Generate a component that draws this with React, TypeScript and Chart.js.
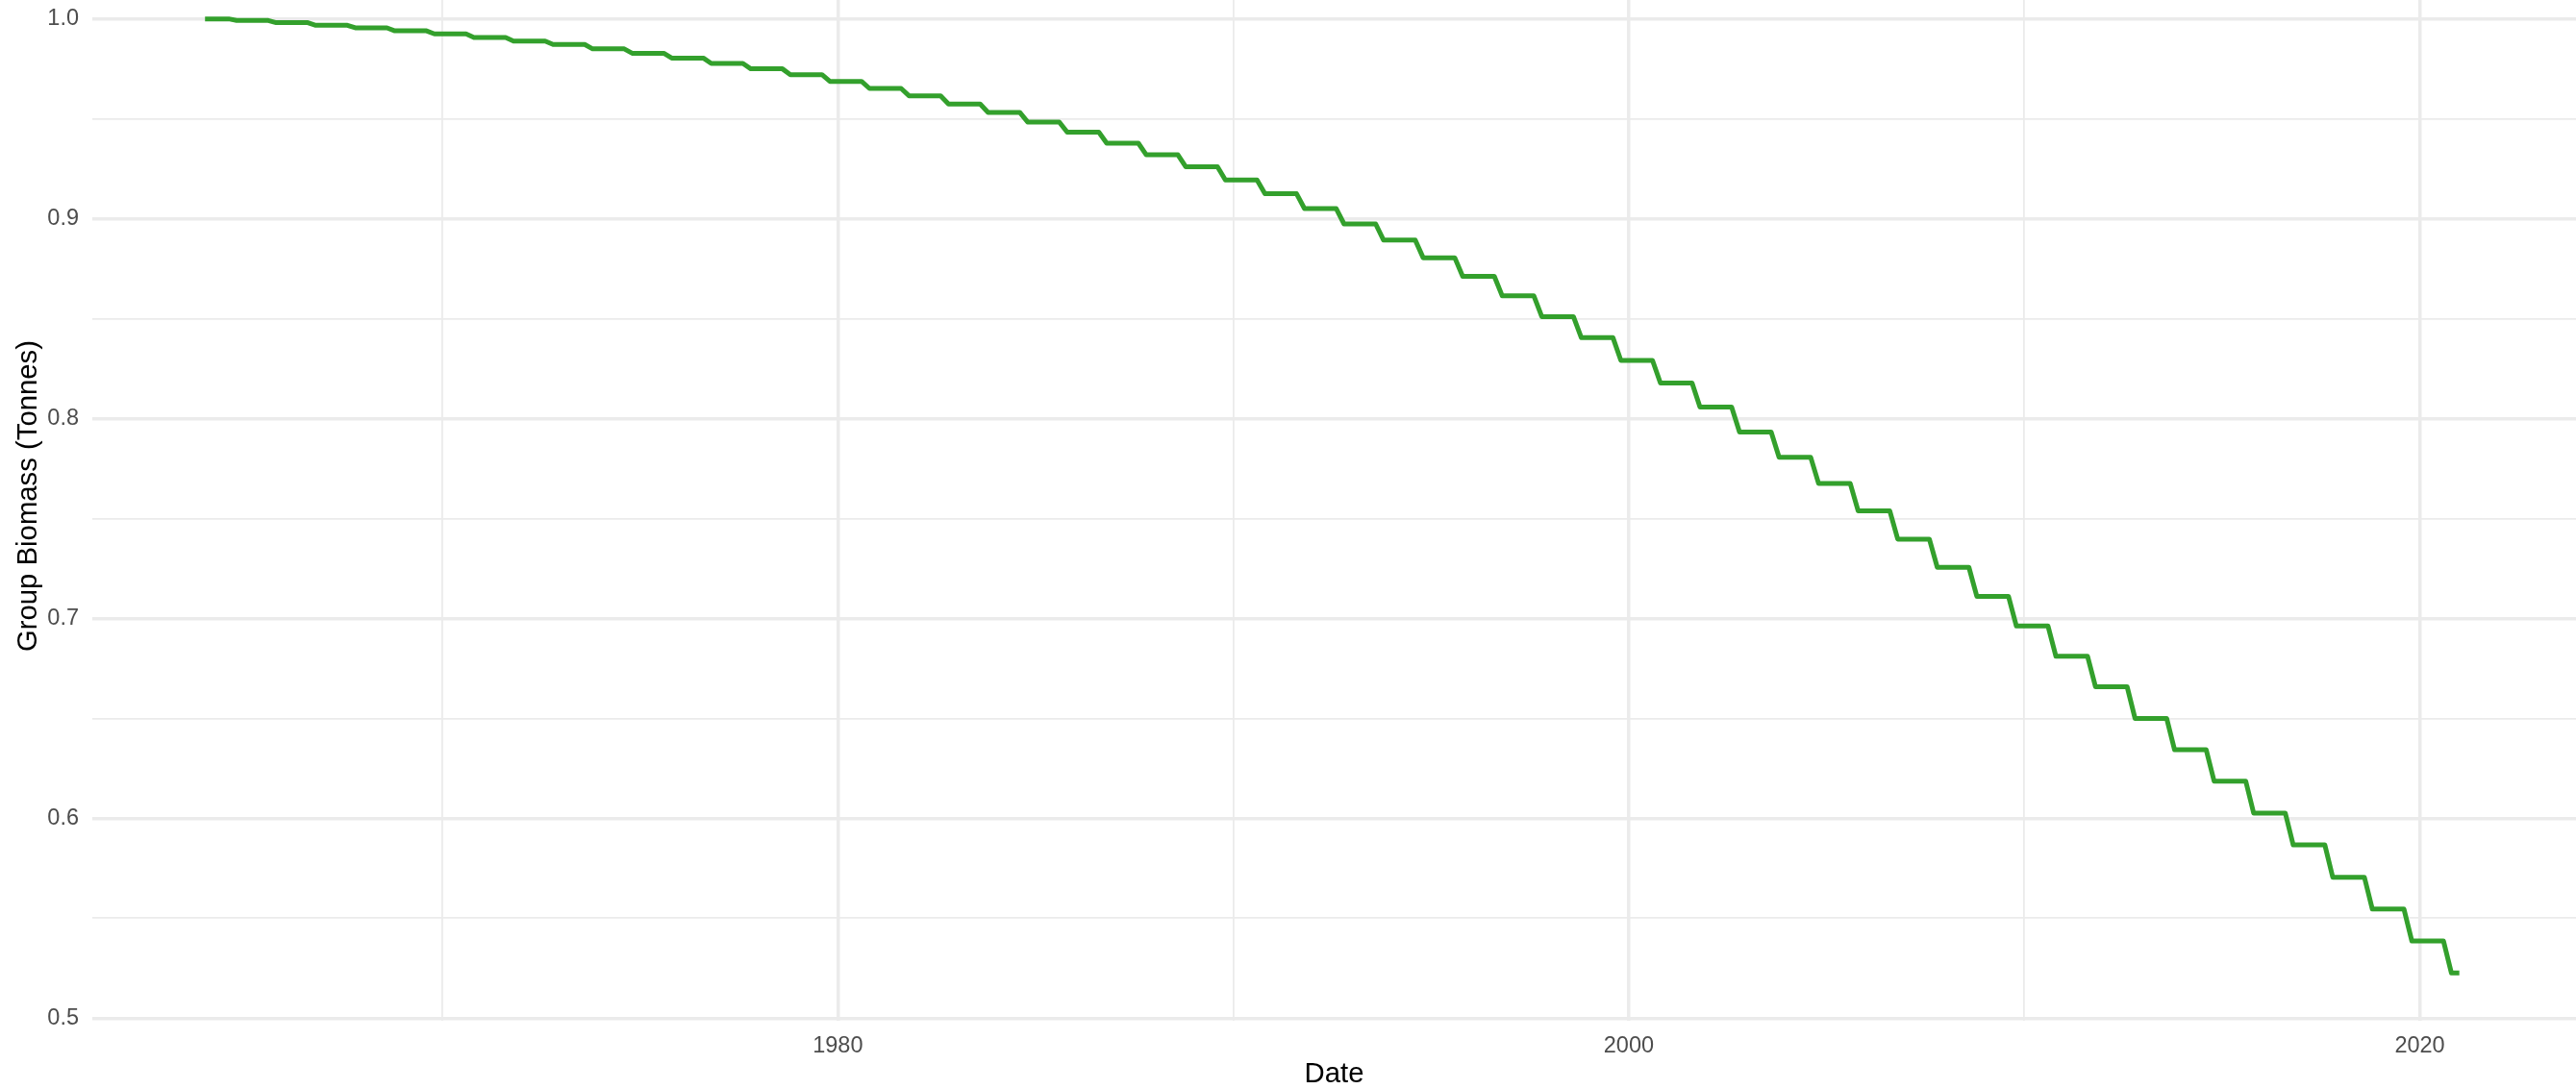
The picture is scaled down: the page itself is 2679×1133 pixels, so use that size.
import React, { useEffect, useRef } from "react";
import { Chart, registerables } from "chart.js";

Chart.register(...registerables);

// Season (year) each biomass level belongs to
const YEARS = [
  1964, 1965, 1966, 1967, 1968, 1969, 1970, 1971, 1972, 1973,
  1974, 1975, 1976, 1977, 1978, 1979, 1980, 1981, 1982, 1983,
  1984, 1985, 1986, 1987, 1988, 1989, 1990, 1991, 1992, 1993,
  1994, 1995, 1996, 1997, 1998, 1999, 2000, 2001, 2002, 2003,
  2004, 2005, 2006, 2007, 2008, 2009, 2010, 2011, 2012, 2013,
  2014, 2015, 2016, 2017, 2018, 2019, 2020, 2021,
];

// Group biomass (tonnes) for each level
const BIOMASS = [
  1.0, 0.9992, 0.9981, 0.9968, 0.9955, 0.994, 0.9925, 0.9907, 0.9889, 0.9872,
  0.985, 0.9828, 0.9804, 0.9777, 0.975, 0.9721, 0.9687, 0.9652, 0.9615, 0.9574,
  0.9532, 0.9484, 0.9433, 0.9378, 0.932, 0.926, 0.9194, 0.9125, 0.9051, 0.8974,
  0.8893, 0.8805, 0.8712, 0.8614, 0.851, 0.8405, 0.8291, 0.8178, 0.8058, 0.7933,
  0.7806, 0.7675, 0.7538, 0.7397, 0.7256, 0.7111, 0.6962, 0.6811, 0.6659, 0.65,
  0.6343, 0.6186, 0.6026, 0.5867, 0.5705, 0.5546, 0.5386, 0.5226,
];

// Series runs Jan 1964 .. Jan 2021; each level applies from ~Oct of the
// previous year to ~Aug of its year (decimal-year offsets).
const DATA_START = 1964.0;
const DATA_END = 2021.0;
const LEVEL_FROM = -0.2;
const LEVEL_TO = 0.6;

const X_MAJOR = [1980, 2000, 2020];
const X_MINOR = [1970, 1990, 2010];
const Y_MAJOR = [0.5, 0.6, 0.7, 0.8, 0.9, 1.0];
const Y_MINOR = [0.55, 0.65, 0.75, 0.85, 0.95];

const X_LIMITS = [1961.15, 2023.95];

const FONT = '"Liberation Sans", Arial, Helvetica, sans-serif';
const TICK_SIZE = 23.5;
const TITLE_SIZE = 29.3;

function buildPoints() {
  const pts: { x: number; y: number }[] = [];
  YEARS.forEach((yr, i) => {
    const x0 = Math.max(DATA_START, yr + LEVEL_FROM);
    const x1 = Math.min(DATA_END, yr + LEVEL_TO);
    pts.push({ x: x0, y: BIOMASS[i] });
    pts.push({ x: x1, y: BIOMASS[i] });
  });
  return pts;
}

export default function App() {
  const ref = useRef<HTMLCanvasElement | null>(null);

  useEffect(() => {
    if (!ref.current) return;
    const vmin = Math.min(...BIOMASS);
    const vmax = Math.max(...BIOMASS);
    const pad = (vmax - vmin) * 0.05;

    const xTicks = [...X_MINOR, ...X_MAJOR].sort((a, b) => a - b);
    const yTicks = [...Y_MINOR, ...Y_MAJOR].sort((a, b) => a - b);

    const chart = new Chart(ref.current, {
      type: "line",
      data: {
        datasets: [
          {
            data: buildPoints(),
            borderColor: "#33a02c",
            borderWidth: 5,
            pointRadius: 0,
            tension: 0,
            borderCapStyle: "butt",
            borderJoinStyle: "round",
            fill: false,
          },
        ],
      },
      options: {
        animation: false,
        responsive: false,
        devicePixelRatio: 1,
        layout: { padding: 0 },
        plugins: {
          legend: { display: false },
          tooltip: { enabled: false },
        },
        scales: {
          x: {
            type: "linear",
            min: X_LIMITS[0],
            max: X_LIMITS[1],
            afterBuildTicks: (s: any) => {
              s.ticks = xTicks.map((v) => ({ value: v }));
            },
            afterFit: (s: any) => {
              s.height = 71;
              s.paddingLeft = 0;
              s.paddingRight = 0;
            },
            border: { display: false },
            grid: {
              drawTicks: false,
              color: "#ebebeb",
              lineWidth: (c: any) => (X_MAJOR.includes(c.tick?.value) ? 3.5 : 1.8),
            },
            ticks: {
              autoSkip: false,
              maxRotation: 0,
              padding: 12,
              color: "#4d4d4d",
              font: { family: FONT, size: TICK_SIZE },
              callback: (v: any) => (X_MAJOR.includes(Number(v)) ? String(v) : ""),
            },
            title: {
              display: true,
              text: "Date",
              color: "#000000",
              padding: { top: 0, bottom: 0 },
              font: { family: FONT, size: TITLE_SIZE, lineHeight: 1 },
            },
          },
          y: {
            type: "linear",
            min: vmin - pad,
            max: vmax + pad,
            afterBuildTicks: (s: any) => {
              s.ticks = yTicks.map((v) => ({ value: v }));
            },
            afterFit: (s: any) => {
              s.width = 96;
              s.paddingTop = 0;
              s.paddingBottom = 0;
            },
            border: { display: false },
            grid: {
              drawTicks: false,
              color: "#ebebeb",
              lineWidth: (c: any) => (Y_MAJOR.includes(c.tick?.value) ? 3.5 : 1.8),
            },
            ticks: {
              autoSkip: false,
              crossAlign: "near",
              padding: 14,
              color: "#4d4d4d",
              font: { family: FONT, size: TICK_SIZE },
              callback: (v: any) =>
                Y_MAJOR.includes(Number(v)) ? Number(v).toFixed(1) : "",
            },
            title: {
              display: true,
              text: "Group Biomass (Tonnes)",
              color: "#000000",
              padding: { top: 15, bottom: 0 },
              font: { family: FONT, size: TITLE_SIZE, lineHeight: 1 },
            },
          },
        },
      },
    } as any);

    return () => chart.destroy();
  }, []);

  return (
    <div
      style={{
        position: "fixed",
        left: 0,
        top: -30,
        width: 2679,
        height: 1163,
        background: "#ffffff",
      }}
    >
      <canvas ref={ref} width={2679} height={1163} style={{ width: 2679, height: 1163, display: "block" }} />
    </div>
  );
}
